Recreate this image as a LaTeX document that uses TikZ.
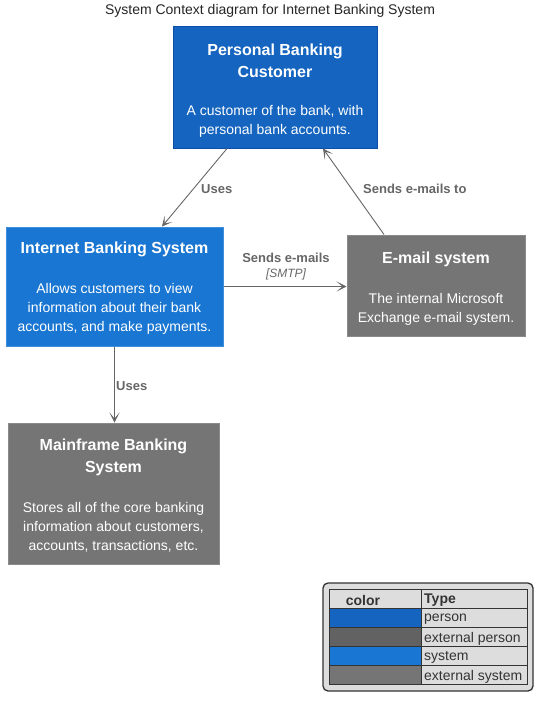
\documentclass[tikz,border=0pt]{standalone}
\usepackage{fontspec}
\setmainfont{Liberation Sans}
\usetikzlibrary{arrows.meta,calc}
\definecolor{personblue}{HTML}{1565C0}
\definecolor{personborder}{HTML}{0D4FA8}
\definecolor{sysblue}{HTML}{1976D2}
\definecolor{sysborder}{HTML}{3F8FDC}
\definecolor{extgray}{HTML}{757575}
\definecolor{extpgray}{HTML}{626262}
\definecolor{extborder}{HTML}{8A8A8A}
\definecolor{linegray}{HTML}{666666}
\definecolor{legbg}{HTML}{DDDDDD}
\definecolor{legtext}{HTML}{333333}
\tikzset{
  boxnode/.style={rectangle, inner sep=0pt, line width=1pt},
  ttl/.style={text=white, font=\fontsize{16}{22}\selectfont\bfseries, align=center, inner sep=0pt, anchor=center},
  dsc/.style={text=white, font=\fontsize{14}{19}\selectfont, align=center, inner sep=0pt, anchor=center},
  arr/.style={draw=linegray, line width=0.9pt, -{Stealth[length=10pt,width=10pt,inset=6pt]}},
  elbl/.style={text=linegray, font=\fontsize{13}{15}\selectfont\bfseries, inner sep=0pt},
  tech/.style={text=linegray, font=\fontsize{12}{14}\selectfont\itshape, inner sep=0pt},
  legtxt/.style={text=legtext, font=\fontsize{14}{16}\selectfont, inner sep=0pt, anchor=west},
  cellbox/.style={rectangle, draw=legtext, line width=0.8pt, inner sep=0pt}
}
\begin{document}
\begin{tikzpicture}[x=1pt,y=-1pt]
\useasboundingbox[fill=white] (0,0) rectangle (543,701);
% title
\node[font=\fontsize{14}{16}\selectfont, text=black!85, inner sep=0pt] (title) at (270,11) {System Context diagram for Internet Banking System};

% boxes
\node[boxnode, fill=personblue, draw=personborder, minimum width=204pt, minimum height=121pt] (cust) at (275,87.5) {};
\node[ttl] (custt) at (275,60.5) {Personal Banking\\Customer};
\node[dsc] (custd) at (275,121) {A customer of the bank, with\\personal bank accounts.};

\node[boxnode, fill=sysblue, draw=sysborder, minimum width=217pt, minimum height=119pt] (ibs) at (114.5,286.5) {};
\node[ttl] (ibst) at (114.5,249.5) {Internet Banking System};
\node[dsc] (ibsd) at (114.5,308.5) {Allows customers to view\\information about their bank\\accounts, and make payments.};

\node[boxnode, fill=extgray, draw=extborder, minimum width=178pt, minimum height=101pt] (email) at (436,285.5) {};
\node[ttl] (emailt) at (436,259.5) {E-mail system};
\node[dsc] (emaild) at (436,309) {The internal Microsoft\\Exchange e-mail system.};

\node[boxnode, fill=extgray, draw=extborder, minimum width=211pt, minimum height=141pt] (mf) at (113.5,493.5) {};
\node[ttl] (mft) at (113.5,457.5) {Mainframe Banking\\System};
\node[dsc] (mfd) at (113.5,527.5) {Stores all of the core banking\\information about customers,\\accounts, transactions, etc.};

% connectors
\draw[arr] ([xshift=-48pt]cust.south) -- ([xshift=47.5pt]ibs.north);
\node[elbl, anchor=west] (l1) at (201,189) {Uses};

\draw[arr] (ibs.east) -- (ibs.east -| email.west);
\node[elbl] (l2) at (286,258) {Sends e-mails};
\node[tech] (l2t) at (286,274.5) {[SMTP]};

\draw[arr] ([xshift=-52pt]email.north) -- ([xshift=48pt]cust.south);
\node[elbl, anchor=west] (l3) at (363,189) {Sends e-mails to};

\draw[arr] (ibs.south) -- (ibs.south |- mf.north);
\node[elbl, anchor=west] (l4) at (116,386) {Uses};

% legend
\node[rectangle, rounded corners=5pt, draw=legtext, line width=1.3pt, fill=legbg, minimum width=210pt, minimum height=108pt, inner sep=0pt] (legend) at (428,637) {};
\node[cellbox, fill=legbg, minimum width=92pt, minimum height=19pt] (h1) at (375,599) {};
\node[cellbox, fill=legbg, minimum width=106pt, minimum height=19pt] (h2) at (474,599) {};
\node[font=\fontsize{14}{16}\selectfont\bfseries, text=legtext, inner sep=0pt] (h1t) at (363,600.5) {color};
\node[legtxt, font=\fontsize{14}{16}\selectfont\bfseries] (h2t) at (424,600.5) {Type};

\node[cellbox, fill=personblue, minimum width=92pt, minimum height=19pt] (c1) at (375,618) {};
\node[cellbox, fill=legbg, minimum width=106pt, minimum height=19pt] (t1) at (474,618) {};
\node[legtxt] (t1t) at (424,619.5) {person};

\node[cellbox, fill=extpgray, minimum width=92pt, minimum height=19pt] (c2) at (375,637) {};
\node[cellbox, fill=legbg, minimum width=106pt, minimum height=19pt] (t2) at (474,637) {};
\node[legtxt] (t2t) at (424,638.5) {external person};

\node[cellbox, fill=sysblue, minimum width=92pt, minimum height=19pt] (c3) at (375,656) {};
\node[cellbox, fill=legbg, minimum width=106pt, minimum height=19pt] (t3) at (474,656) {};
\node[legtxt] (t3t) at (424,657.5) {system};

\node[cellbox, fill=extgray, minimum width=92pt, minimum height=19pt] (c4) at (375,675) {};
\node[cellbox, fill=legbg, minimum width=106pt, minimum height=19pt] (t4) at (474,675) {};
\node[legtxt] (t4t) at (424,676.5) {external system};
\end{tikzpicture}
\end{document}
